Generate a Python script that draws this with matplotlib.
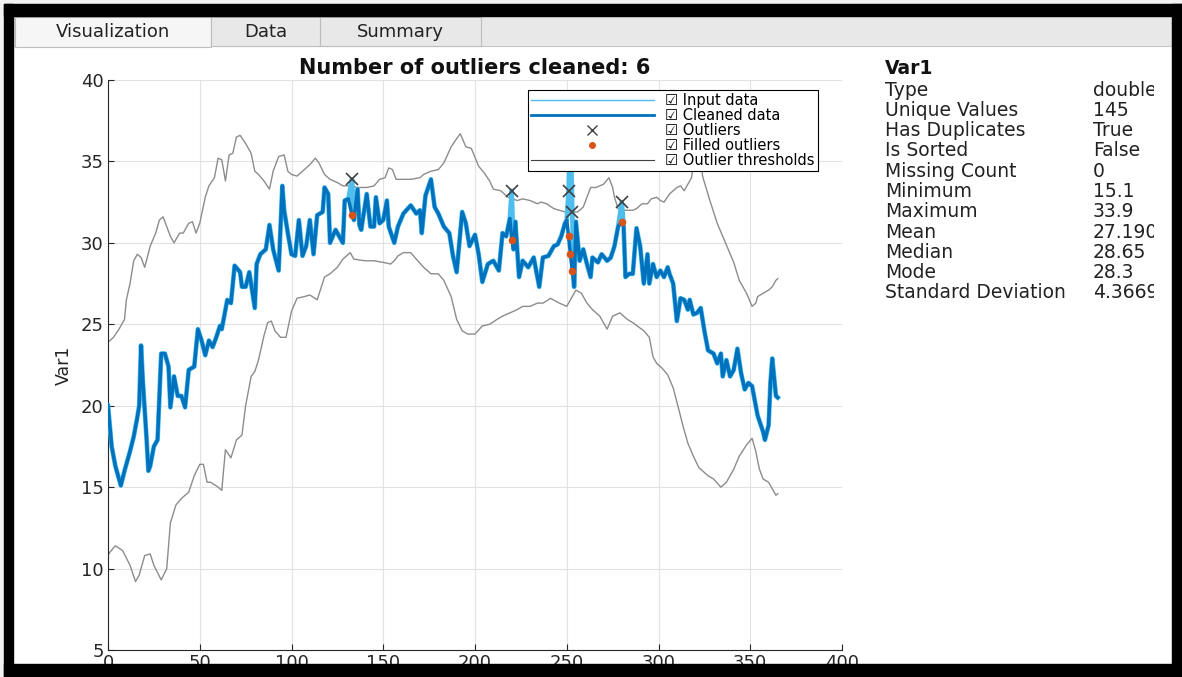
import numpy as np
import matplotlib.pyplot as plt
from matplotlib.patches import Rectangle
from matplotlib.lines import Line2D

plt.rcParams['font.family'] = ['DejaVu Sans']

# ---- data ----
cl_days = [0, 2, 4, 7, 9, 10, 12, 14, 16, 17,
           18, 19, 21, 22, 23, 25, 27, 28, 29, 31,
           33, 34, 36, 38, 40, 42, 44, 47, 49, 51,
           53, 55, 57, 59, 61, 62, 65, 67, 69, 72,
           73, 75, 77, 80, 81, 83, 86, 88, 90, 93,
           95, 96, 98, 100, 102, 104, 106, 108, 110, 112,
           114, 117, 118, 120, 121, 124, 126, 128, 129, 131,
           133, 134, 136, 137, 138, 141, 143, 145, 146, 148,
           150, 152, 153, 156, 158, 161, 165, 168, 170, 171,
           173, 176, 178, 180, 183, 186, 188, 190, 193, 195,
           197, 200, 202, 204, 207, 210, 213, 215, 217, 219,
           220, 221, 222, 224, 226, 229, 232, 235, 237, 240,
           243, 245, 247, 249, 250, 251, 252, 253, 254, 255,
           257, 259, 261, 263, 264, 267, 269, 272, 274, 276,
           278, 280, 281, 282, 284, 286, 288, 290, 292, 294,
           295, 297, 299, 301, 303, 305, 306, 308, 310, 312,
           314, 316, 317, 319, 321, 323, 325, 327, 330, 332,
           334, 335, 337, 339, 341, 343, 345, 347, 349, 351,
           352, 354, 357, 358, 360, 361, 362, 364, 365]
cl_vals = [20.0, 17.5, 16.3, 15.1, 16.0, 16.4, 17.2, 18.1, 19.3, 20.0,
           23.7, 21.5, 18.0, 16.0, 16.3, 17.5, 17.9, 20.5, 23.2, 23.2,
           22.4, 19.9, 21.8, 20.6, 20.6, 19.9, 22.2, 22.4, 24.7, 24.0,
           23.1, 24.0, 23.6, 24.2, 24.9, 24.7, 26.5, 26.3, 28.6, 28.2,
           27.3, 27.3, 28.2, 26.0, 28.7, 29.3, 29.6, 31.1, 29.6, 28.3,
           33.5, 32.0, 30.6, 29.3, 29.2, 31.4, 29.2, 29.8, 31.4, 29.3,
           31.7, 31.9, 33.4, 33.0, 30.0, 30.8, 30.4, 30.0, 32.6, 32.7,
           31.7, 31.4, 33.3, 31.1, 30.8, 33.0, 31.0, 31.0, 32.8, 31.2,
           31.4, 32.6, 31.0, 30.0, 31.0, 31.8, 32.3, 31.8, 32.0, 30.6,
           32.9, 33.9, 32.2, 31.8, 31.0, 30.6, 29.2, 28.2, 31.9, 31.2,
           29.8, 30.5, 29.3, 27.6, 28.7, 28.9, 28.3, 30.6, 30.4, 31.5,
           30.2, 29.6, 31.3, 27.9, 28.9, 28.5, 29.1, 27.3, 29.1, 29.2,
           29.8, 29.9, 30.4, 31.2, 31.4, 30.4, 29.3, 28.3, 27.3, 31.3,
           28.9, 29.6, 28.7, 27.9, 29.1, 28.8, 29.3, 28.9, 29.1, 29.8,
           31.0, 31.3, 31.0, 27.9, 28.1, 28.1, 30.9, 29.8, 27.5, 29.3,
           27.5, 28.7, 27.9, 28.3, 27.9, 28.5, 28.1, 27.5, 25.2, 26.6,
           26.5, 25.9, 26.5, 25.6, 25.7, 26.0, 24.6, 23.4, 23.2, 22.6,
           23.2, 21.8, 22.8, 21.8, 22.2, 23.5, 22.0, 21.0, 21.4, 21.2,
           20.6, 19.4, 18.4, 17.9, 18.8, 21.4, 22.9, 20.6, 20.5]

out_days = [133, 220, 251, 252, 253, 280]
out_vals = [33.9, 33.2, 33.2, 37.5, 31.9, 32.5]

up_days = [0, 3, 6, 9, 10, 12, 14, 16, 18, 20,
           23, 26, 28, 30, 32, 34, 36, 39, 41, 44,
           46, 48, 50, 53, 55, 58, 60, 62, 64, 66,
           68, 70, 72, 75, 78, 80, 82, 85, 88, 90,
           93, 96, 98, 100, 103, 107, 110, 113, 115, 118,
           121, 125, 128, 132, 136, 141, 145, 148, 151, 153,
           155, 157, 160, 165, 170, 172, 176, 180, 183, 187,
           190, 192, 195, 198, 202, 205, 208, 210, 214, 218,
           223, 226, 230, 234, 236, 239, 243, 246, 249, 253,
           256, 259, 263, 266, 270, 273, 275, 276, 278, 282,
           286, 288, 291, 294, 296, 299, 301, 303, 306, 310,
           312, 314, 316, 318, 320, 322, 324, 328, 332, 335,
           338, 341, 344, 348, 351, 353, 354, 357, 360, 362,
           364, 365]
up_vals = [23.9, 24.2, 24.7, 25.3, 26.5, 27.5, 28.9, 29.3, 29.1, 28.5,
           29.8, 30.6, 31.4, 31.6, 31.0, 30.4, 30.0, 30.6, 30.6, 31.2,
           31.3, 30.6, 31.2, 32.8, 33.5, 34.0, 35.2, 35.1, 33.8, 35.4,
           35.5, 36.5, 36.6, 36.1, 35.5, 34.4, 34.2, 33.8, 33.3, 34.4,
           35.3, 35.4, 34.4, 34.2, 34.1, 34.5, 34.8, 35.2, 34.9, 34.2,
           33.9, 33.7, 33.5, 33.5, 33.4, 33.4, 33.5, 33.9, 34.0, 34.6,
           34.5, 33.9, 33.9, 33.9, 34.0, 34.2, 34.4, 34.5, 34.9, 35.9,
           36.4, 36.7, 35.9, 35.8, 34.7, 34.3, 33.8, 33.3, 33.2, 32.8,
           32.6, 32.7, 32.6, 32.4, 32.5, 32.4, 32.1, 32.0, 31.9, 31.9,
           31.9, 32.2, 33.4, 33.4, 33.6, 34.0, 33.4, 32.8, 32.1, 32.0,
           32.0, 32.1, 32.4, 32.4, 32.7, 32.8, 32.6, 32.5, 33.0, 33.4,
           33.5, 33.2, 33.6, 34.0, 35.5, 36.5, 34.1, 32.6, 31.2, 30.4,
           29.6, 28.8, 27.7, 26.9, 26.1, 26.3, 26.7, 26.9, 27.1, 27.3,
           27.7, 27.8]

lo_days = [0, 1, 4, 8, 12, 15, 17, 20, 23, 25,
           29, 32, 34, 37, 40, 44, 47, 50, 52, 54,
           56, 60, 62, 64, 67, 70, 73, 75, 78, 80,
           82, 85, 87, 89, 91, 94, 97, 100, 103, 107,
           110, 114, 118, 121, 125, 128, 132, 134, 140, 145,
           150, 154, 156, 158, 161, 165, 168, 172, 176, 180,
           183, 187, 190, 193, 196, 200, 204, 208, 212, 215,
           219, 223, 226, 230, 234, 237, 240, 241, 246, 250,
           253, 255, 258, 261, 264, 268, 272, 275, 279, 283,
           286, 292, 295, 297, 299, 302, 305, 308, 311, 313,
           316, 319, 322, 324, 327, 330, 334, 337, 341, 344,
           348, 351, 353, 355, 357, 360, 362, 364, 365]
lo_vals = [10.8, 11.0, 11.4, 11.1, 10.2, 9.2, 9.6, 10.8, 10.9, 10.2,
           9.3, 10.0, 12.8, 13.9, 14.3, 14.7, 15.7, 16.4, 16.4, 15.3,
           15.3, 15.0, 14.8, 17.3, 16.8, 17.9, 18.2, 20.0, 21.8, 22.1,
           22.8, 24.3, 25.1, 25.2, 24.6, 24.2, 24.2, 25.8, 26.6, 26.7,
           26.8, 26.5, 27.9, 28.1, 28.5, 29.0, 29.4, 29.0, 28.9, 28.9,
           28.8, 28.7, 28.9, 29.2, 29.4, 29.4, 29.0, 28.5, 28.1, 28.1,
           27.7, 26.7, 25.3, 24.6, 24.4, 24.4, 24.9, 25.0, 25.3, 25.5,
           25.7, 25.9, 26.1, 26.1, 26.3, 26.3, 26.5, 26.6, 26.3, 26.1,
           26.7, 27.1, 26.9, 26.3, 25.9, 25.5, 24.7, 25.5, 25.7, 25.3,
           25.1, 24.6, 24.2, 23.0, 22.6, 22.3, 21.9, 21.1, 19.8, 18.9,
           17.7, 16.9, 16.2, 16.0, 15.7, 15.5, 15.0, 15.3, 16.1, 16.9,
           17.6, 18.0, 17.2, 16.1, 15.5, 15.3, 14.9, 14.5, 14.6]

tab_names = ['Visualization', 'Data', 'Summary']
tab_edges = [15, 211, 320, 481]

summary_labels = ['Type', 'Unique Values', 'Has Duplicates', 'Is Sorted',
                  'Missing Count', 'Minimum', 'Maximum', 'Mean', 'Median',
                  'Mode', 'Standard Deviation']
summary_values = ['double', '145', 'True', 'False', '0', '15.1', '33.9',
                  '27.1904', '28.65', '28.3', '4.3669']

# input series = cleaned series with the original outlier values put back
input_vals = list(cl_vals)
filled_vals = []
for d, v in zip(out_days, out_vals):
    i = cl_days.index(d)
    filled_vals.append(cl_vals[i])
    input_vals[i] = v

W, H = 1182, 677
fig = plt.figure(figsize=(W / 100, H / 100), dpi=100)
fig.patch.set_facecolor('#f2f2f2')

# window background and tab strip (pixel coordinates)
bg = fig.add_axes([0, 0, 1, 1], zorder=-5)
bg.set_xlim(0, W)
bg.set_ylim(H, 0)
bg.axis('off')
bg.add_patch(Rectangle((13, 16), 1159, 650, facecolor='white', edgecolor='none'))
bg.add_patch(Rectangle((13, 16), 1159, 30, facecolor='#e8e8e8', edgecolor='#c6c6c6', lw=0.8))
for k, name in enumerate(tab_names):
    x0, x1 = tab_edges[k], tab_edges[k + 1]
    face = '#f6f6f6' if k == 0 else '#e8e8e8'
    bg.add_patch(Rectangle((x0, 17), x1 - x0, 30 if k == 0 else 29,
                           facecolor=face, edgecolor='#bdbdbd', lw=0.8))
    bg.text((x0 + x1) / 2, 32, name, ha='center', va='center',
            fontsize=13, color='#222222')

# main plot
ax = fig.add_axes([108 / W, (H - 650) / H, 734 / W, 570 / H])
ax.plot(up_days, up_vals, color='#8c8c8c', lw=1.0, zorder=2)
ax.plot(lo_days, lo_vals, color='#8c8c8c', lw=1.0, zorder=2)
ax.plot(cl_days, input_vals, color='#4DBEEE', lw=3.4, zorder=3)
ax.plot(cl_days, cl_vals, color='#0072BD', lw=2.5, zorder=4)
ax.plot(out_days, out_vals, ls='none', marker='x', color='#404040',
        ms=8, mew=1.2, zorder=5)
ax.plot(out_days, filled_vals, ls='none', marker='o', color='#D95319',
        ms=4.5, zorder=6)

ax.set_xlim(0, 400)
ax.set_ylim(5, 40)
ax.set_xticks(np.arange(0, 401, 50))
ax.set_yticks(np.arange(5, 41, 5))
ax.grid(True, color='#e2e2e2', lw=0.8)
ax.set_axisbelow(True)
for s in ['top', 'right']:
    ax.spines[s].set_visible(False)
for s in ['left', 'bottom']:
    ax.spines[s].set_color('#262626')
    ax.spines[s].set_linewidth(0.8)
ax.tick_params(direction='in', length=4, colors='#262626', labelsize=13, pad=3)
ax.set_ylabel('Var1', fontsize=12.5, color='#262626', labelpad=6)
ax.set_title('Number of outliers cleaned: 6', fontsize=15,
             fontweight='bold', color='#111111', pad=4)

handles = [Line2D([], [], color='#4DBEEE', lw=1),
           Line2D([], [], color='#0072BD', lw=2),
           Line2D([], [], ls='none', marker='x', color='#404040', ms=7),
           Line2D([], [], ls='none', marker='o', color='#D95319', ms=4),
           Line2D([], [], color='#404040', lw=0.8)]
labels = ['☑ Input data', '☑ Cleaned data', '☑ Outliers',
          '☑ Filled outliers', '☑ Outlier thresholds']
leg = ax.legend(handles, labels, loc='upper right', bbox_to_anchor=(0.967, 0.982),
                fontsize=10.5, labelspacing=0.0, borderpad=0.2,
                handlelength=8.4, handletextpad=0.8, borderaxespad=0,
                fancybox=False, framealpha=1)
leg.get_frame().set_edgecolor('black')
leg.get_frame().set_linewidth(0.8)
leg.set_zorder(10)

# summary panel on the right
pan = fig.add_axes([868 / W, (H - 663) / H, (1154 - 868) / W, (663 - 47) / H])
pan.set_xlim(868, 1154)
pan.set_ylim(663, 47)
pan.axis('off')
t = pan.text(885, 68, 'Var1', fontsize=13.5, fontweight='bold', va='center',
             color='#111111')
t.set_clip_box(pan.bbox)
for k, (lab, val) in enumerate(zip(summary_labels, summary_values)):
    y = 90 + k * 20.3
    for xx, s in [(885, lab), (1093, val)]:
        t = pan.text(xx, y, s, fontsize=13.5, va='center', color='#222222')
        t.set_clip_box(pan.bbox)
        t.set_clip_on(True)

# black outer frame drawn on top
fr = fig.add_axes([0, 0, 1, 1], zorder=20)
fr.set_xlim(0, W)
fr.set_ylim(H, 0)
fr.axis('off')
fr.patch.set_visible(False)
fr.add_patch(Rectangle((4, 4), W - 4, 12, color='black'))
fr.add_patch(Rectangle((4, 4), 9, H - 4, color='black'))
fr.add_patch(Rectangle((1172, 4), 10, H - 4, color='black'))
fr.add_patch(Rectangle((4, 664), W - 4, 13, color='black'))

fig.savefig('out.png', dpi=100)
